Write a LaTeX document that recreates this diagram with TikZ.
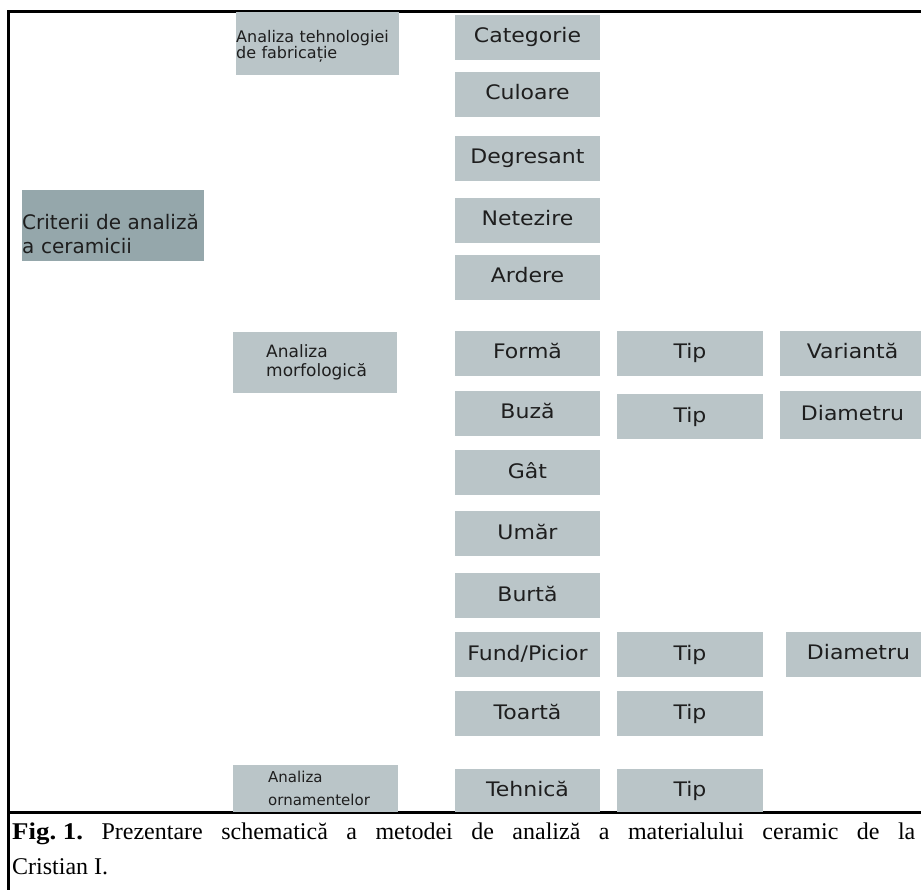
\documentclass[tikz,border=0pt]{standalone}
\usepackage{fontspec}
\setmainfont{Liberation Serif}
\newfontfamily\boxfont{DejaVu Sans}
\newfontfamily\cellfont[FakeStretch=1.1]{DejaVu Sans}
\newfontfamily\capfont{Liberation Serif}[BoldFeatures={FakeStretch=1.12}]
\usetikzlibrary{positioning}
\definecolor{BoxGray}{HTML}{BAC5C8}
\definecolor{RootGray}{HTML}{95A7AB}
\definecolor{InkGray}{HTML}{1E1E1E}

\begin{document}
\begin{tikzpicture}[x=1pt,y=-1pt,
    cell/.style={fill=BoxGray,text=InkGray,inner sep=0pt,minimum width=145pt,minimum height=45pt,
      text height=15pt,text depth=4pt,font=\cellfont\fontsize{20}{22}\selectfont},
    group/.style={fill=BoxGray,text=InkGray,inner sep=0pt,align=left,anchor=north west},
    frame/.style={line width=3pt,black}]
  \clip (0,0) rectangle (921,890);
  % frame and caption rule
  \draw[frame] (921,12) -- (8,12) -- (8,890);
  \draw[frame] (8,812) -- (921,812);
  % left column
  \node[group,fill=RootGray,minimum width=182pt,minimum height=71pt,text width=182pt,
    font=\boxfont\fontsize{20}{24}\selectfont] (root) at (22,190) {\rule{0pt}{32pt}Criterii de analiză\\a ceramicii};
  \node[group,minimum width=163pt,minimum height=63pt,text width=163pt,
    font=\boxfont\fontsize{16}{16}\selectfont] (tech) at (236,12) {\rule{0pt}{18pt}Analiza tehnologiei\\de fabricație};
  \node[group,minimum width=164pt,minimum height=61pt,text width=98pt,
    font=\boxfont\fontsize{17}{19}\selectfont] (morph) at (233,332) {Analiza\\morfologică};
  \node[group,minimum width=165pt,minimum height=47pt,text width=95pt,
    font=\boxfont\fontsize{15}{23}\selectfont] (orn) at (233,765) {Analiza\\ornamentelor};
  % criteria
  \node[cell] (categ) at (527.5,37.5) {Categorie};
  \node[cell] (culoare) at (527.5,94.5) {Culoare};
  \node[cell] (degres) at (527.5,158.5) {Degresant};
  \node[cell] (netez) at (527.5,220.5) {Netezire};
  \node[cell] (ardere) at (527.5,277.5) {Ardere};
  \node[cell] (forma) at (527.5,353.5) {Formă};
  \node[cell] (buza) at (527.5,413.5) {Buză};
  \node[cell] (gat) at (527.5,472.5) {Gât};
  \node[cell] (umar) at (527.5,533.5) {Umăr};
  \node[cell] (burta) at (527.5,595.5) {Burtă};
  \node[cell] (fund) at (527.5,654.5) {Fund/Picior};
  \node[cell] (toarta) at (527.5,713.5) {Toartă};
  \node[cell,minimum height=43pt] (tehnica) at (527.5,790.5) {Tehnică};
  % sub-criteria
  \node[cell,minimum width=146pt] (formtip) at (690,353.5) {Tip};
  \node[cell,minimum width=146pt] (buzatip) at (690,416.5) {Tip};
  \node[cell,minimum width=146pt] (fundtip) at (690,654.5) {Tip};
  \node[cell,minimum width=146pt] (toartatip) at (690,713.5) {Tip};
  \node[cell,minimum width=146pt,minimum height=43pt] (tehntip) at (690,790.5) {Tip};
  \node[cell] (varianta) at (852.5,353.5) {Variantă};
  \node[cell,minimum height=47pt] (buzadiam) at (852.5,415) {Diametru};
  \node[cell] (funddiam) at (858.5,654) {Diametru};
  % caption
  \node[anchor=north west,inner sep=0pt,text width=903pt,align=justify,
    font=\capfont\frenchspacing\fontsize{24}{35}\selectfont] (caption) at (12,823)
    {\mbox{\textbf{Fig. 1.}} Prezentare schematică a metodei de analiză a materialului ceramic de la\linebreak Cristian I.};
\end{tikzpicture}
\end{document}
